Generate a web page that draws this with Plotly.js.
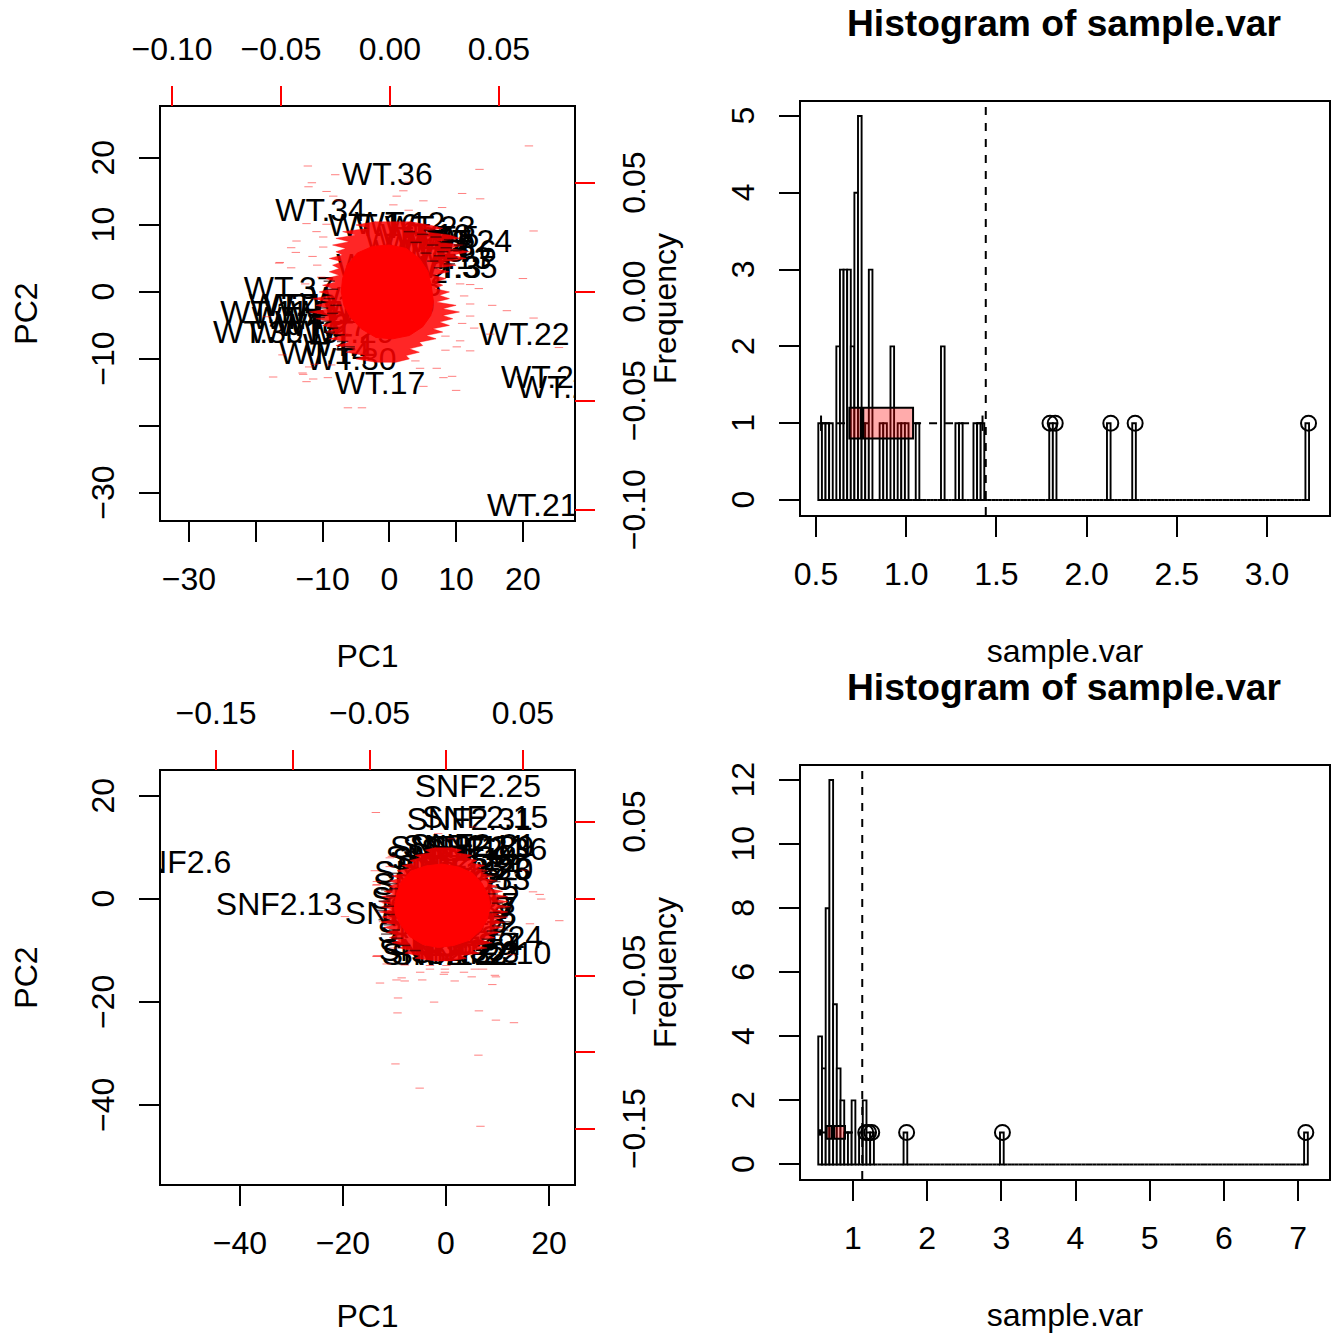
<!DOCTYPE html>
<html><head><meta charset="utf-8">
<script src="https://cdn.plot.ly/plotly-3.0.1.min.js"></script>
<style>html,body{margin:0;padding:0;background:#fff}#c{width:1336px;height:1334px}</style>
</head><body><div id="c"></div>
<script>
// ---------- Panel A: WT biplot ----------
const wtNames=["WT.36","WT.34","WT.16","WT.12","WT.23","WT.5","WT.24","WT.6","WT.35","WT.3","WT.33","WT.7","WT.37","WT.4","WT.11","WT.39","WT.19","WT.9","WT.41","WT.14","WT.30","WT.1","WT.22","WT.25","WT.28","WT.21","WT.17","WT.2","WT.8","WT.10","WT.13","WT.15","WT.18","WT.20","WT.26","WT.27","WT.29","WT.31","WT.32","WT.38","WT.40","WT.42"];
const wtX=[-0.3,-10.3,-2.4,1.6,6.1,8,11.6,10.6,9.4,8.3,1,-2.5,-15,-15.6,-18.7,-19.6,-14.2,-11.7,-13.8,-9.7,-5.7,-7.5,20.2,23.5,25.9,21.4,-1.4,6.5,7.5,5.5,8.5,4.5,6,3,-8,-10,-6,-12,-5,-3,0,2];
const wtY=[17.1,11.8,9.6,9.9,9.3,7.8,7.1,5.6,3.3,3.3,0.6,3.6,0.2,-2.4,-3.4,-6.4,-6.5,-5,-4.3,-9.5,-10.5,-8.4,-6.7,-13.1,-14.6,-32.3,-14.1,7.1,6.1,8.1,4.6,5.6,6.6,7.6,-3.4,-5.4,-6.4,-2.4,-1.4,-3.4,-2.4,2.6];
const wtCoreX=[-7.2,-7,-6.3,-4.8,-2.5,0,2.5,4.5,5.8,6.3,6.6,6.2,5,3,0.5,-2,-4.2,-5.8,-6.8];
const wtCoreY=[0,2,4,5.8,6.8,7,6.5,5,3,0.8,-1.5,-3.5,-5.2,-6.5,-7,-6.8,-5.5,-3.8,-2];
const wtFringeY=[10.5,10,9.5,9,8.5,8,7.5,7,6.5,6,5.5,5,4.5,4,3.5,3,2.5,2,1.5,1,0.5,0,-0.5,-1,-1.5,-2,-2.5,-3,-3.5,-4,-4.5,-5,-5.5,-6,-6.5,-7,-7.5,-8,-8.5,-9,-9.5,-10,-10.5];
const wtFringeR=[3,6,8,5,9,10.5,7,11,9,12,9.5,11.5,8,10,7,9,6.5,8.5,7,8,6.8,9,7.5,9,7,10,8,10.5,8,9.5,7.5,9,6.5,8,5.5,7,4.5,5,3,4.5,2.5,3,1];
const wtFringeL=[-2,-5,-3,-7,-5,-8,-6,-8.5,-6.5,-8,-7,-9,-7,-8.5,-7.5,-9,-7.5,-9.5,-8,-10,-8.5,-10.5,-8.5,-11.5,-9,-11,-9,-12,-9,-11,-8.5,-10,-8,-9.5,-7,-9,-6,-8,-5,-6.5,-3.5,-5,-2];
const wtDarkX=[5,7,9,4,6.5,8.5,10,5.5,7.5,9.5,6.5,8.5,10.5,3,6,8,9,7.5,-9,-10,-8.5,-9.5,-8.5,-7.5,-10.5,-8,-9,-7,-6,-8.5,-9,-7.5];
const wtDarkY=[8.6,8.2,7.8,7.4,7,6.6,6.2,5.8,5.4,5,4.6,7.4,7,9,9.2,6,4.2,3.6,-1,-2.4,-3.2,-4.4,-5.4,-6.4,-3.8,-2,-6,-7.4,-8.2,0.4,1.6,-8.6];
const wtGeneX=[20.9,-12.2,13.5,-8.1,-11.6,-12.1,-9.4,2.9,2.1,10.9,-8.4,1.1,5.1,13.6,-7.6,0.6,7.9,2.9,-12.4,21.6,-13.9,-9.9,-10.9,-14.7,-9.9,-14,-16.4,-14.7,20,12.1,13.4,10.6,15.4,17.6,12.1,21.6,12.1,10.9,15.1,25.4,8.4,10.6,8.4,12.1,3.9,7.1,4.6,9.4,8.1,5.1,10,-17.4,-12.9,-11.4,-9.2,-11.2,-6.2,-4.1,-13,-12.4,-16.5,-10.8,-18.3,-16,-12,-8.7,-10.2,-11.5,-9.4,-12.6,11.2,12.7,10.1,9.6];
const wtGeneY=[21.8,18.8,18.3,17.5,16.3,15.7,15,16.4,15.1,14.7,14.3,14.3,13.6,13.9,13.7,13,12.6,12.2,10.2,9.1,7.6,8.2,9,6.6,6.7,5.9,4.4,3.6,2,1.1,0.5,1.2,-2,-2.8,-1.8,-3.9,-3.6,-4.7,-6.3,-8.3,-6.6,-7.3,-8.7,-8.8,-10.3,-11.4,-11.4,-12.6,-12.8,-14.1,-14.7,-12.7,-12.3,-13,-12.8,-10.8,-17.3,-17.3,-12.1,-13.4,4.3,4,-3.7,-9.4,-11.2,-10.9,2.2,5.3,10.1,1.2,-0.6,-5.4,-8.2,4.6];

// ---------- Panel B: WT histogram ----------
const h1Bins=[0,1,2,3,5,6,7,8,9,10,11,12,13,14,17,18,20,22,23,24,27,34,38,39,43,44,45,64,65,80,87,135];
const h1Counts=[1,1,1,1,2,3,3,3,2,4,5,1,1,3,1,1,2,1,1,1,1,2,1,1,1,1,1,1,1,1,1,1];
const h1Box=[0.528,0.685,0.755,1.038,1.423];
const h1Out=[1.797,1.826,2.134,2.269,3.23];
const h1Cut=[1.441];

// ---------- Panel C: SNF2 biplot ----------
const snfNames=["SNF2.25","SNF2.15","SNF2.31","SNF2.36","SNF2.18","SNF2.21","SNF2.9","SNF2.11","SNF2.6","SNF2.13","SNF2.2","SNF2.10","SNF2.32","SNF2.22","SNF2.3","SNF2.24","SNF2.4","SNF2.20","SNF2.23","SNF2.33","SNF2.5","SNF2.7","SNF2.8","SNF2.12","SNF2.14","SNF2.16","SNF2.17","SNF2.19","SNF2.26","SNF2.27","SNF2.28","SNF2.29","SNF2.30","SNF2.34","SNF2.35","SNF2.37"];
const snfX=[6.2,7.6,4.6,7.4,1.4,5.2,6.6,3.6,-52.2,-32.4,-9.1,8.2,-0.2,1.7,3.7,6.6,4.3,4.7,4.3,4.1,3.7,3.7,3.1,1.6,1.8,-1.7,-1.9,-2.3,-0.4,-1.1,0.4,1.2,0.5,2.7,-0.8,1.2];
const snfY=[21.3,15.3,14.9,9.1,9.5,9.9,9.5,9.7,6.6,-1.6,-3.3,-11.1,-11.3,-11.3,-10.9,-8,-9.4,5.2,5.2,3.3,1.3,-1.6,-3.5,-5.4,7.2,4.6,2.3,-0.4,-5.1,-7,-2.2,-9.3,7.6,5.9,-10.4,-2.4];
const snfCoreX=[-10,-9.6,-8.6,-6.8,-4,-0.8,2.5,5.2,7,8.2,8.6,8,6.8,4.5,1.5,-1.5,-4.5,-7,-8.8,-9.8];
const snfCoreY=[-1.5,1,3.5,5.4,6.4,6.8,6.2,5,3,0.8,-1.5,-4,-6,-8,-9,-9.4,-8.8,-7.3,-5,-3];
const snfFringeY=[10,9.5,9,8.5,8,7.5,7,6.5,6,5.5,5,4.5,4,3.5,3,2.5,2,1.5,1,0.5,0,-0.5,-1,-1.5,-2,-2.5,-3,-3.5,-4,-4.5,-5,-5.5,-6,-6.5,-7,-7.5,-8,-8.5,-9,-9.5,-10,-10.5,-11,-11.5,-12];
const snfFringeR=[1,3,2,5,4,6,5,7.5,6,8,7,9,7.5,10,8,10,8.5,11,9,12,9.5,12,9.5,12.5,9.5,12,9.5,12,9,11.5,9,11,8.5,10.5,8,9.5,7,9,6,8,5,6.5,3,4,1];
const snfFringeL=[-2,-4,-3,-6,-5,-7,-6,-8.5,-7,-9.5,-8,-10.5,-9,-11,-9.5,-11,-10,-12,-10,-12.5,-10.5,-13,-10.5,-12.5,-10.5,-13,-10.5,-12.5,-10.5,-12.5,-10,-12,-10,-11.5,-9.5,-11,-9,-10.5,-8,-9,-7,-8,-5,-6,-2];
const snfDarkX=[9.5,10.5,9,11,10,11.5,9.5,10.5,11.5,10,9,10,8,9,8,11,-10.5,-11.5,-10.5,-12,-11,-12.5,-11,-12,-11,-10,-11.5,-9.5,-10,-9.5,-8,-6];
const snfDarkY=[3.4,2.2,1,0.2,-0.8,-1.8,-2.6,-3.4,-4.4,-5.2,-6.2,-7,-7.8,4.6,5.4,-6,3,1.8,0.6,-0.4,-1.4,-2.2,-3,-4,-5,-6,-6.8,-7.6,2,5,-9,-10];
const snfGeneX=[-13.3,12.7,-11.5,-8,-3.1,0.1,-3.1,-0.2,5.6,7.2,-5,-0.2,3.5,-0.4,5,9.5,9.7,-8.6,-9.6,-8,-4.6,1.7,-12.8,9,-9.3,-2.3,-9.4,6.4,9.7,13.2,6.3,-9.8,-5.1,6.7,-13.6,-13.8,-13.5,-10.9,18.2,18.5,22,16.3,16.9,15.3,-13.5,5.3,-1.5,1.1,-13.4,-13.4,-19.6,-10.5,-10.9,-11.5,-12.2,-10.2,-13.4];
const snfGeneY=[-11,-10.8,-12.6,-12.8,-12.9,-12.9,-13.6,-13.6,-13.6,-13.6,-14.2,-14.2,-14.2,-14.6,-15.1,-14.8,-15.1,-15.3,-15.7,-15.9,-15.7,-15.9,-16.3,-16.6,-19.2,-20,-22.1,-21.7,-23.5,-24,-30.3,-32,-36.7,-44.1,16.8,5.5,2.7,8,0.9,0,-4.2,-4.8,1.4,5.6,-11.1,14,12.7,11.7,3.4,2.8,-3.4,8.3,6.3,-0.8,-4.4,-9.5,-11.1];

// ---------- Panel D: SNF2 histogram ----------
const h2Bins=[0,1,2,3,4,5,6,7,8,9,11,12,13,14,23,49,131];
const h2Counts=[4,3,8,12,5,3,2,1,1,2,1,2,1,1,1,1,1];
const h2Box=[0.555,0.645,0.73,0.892,1.125];
const h2Out=[1.172,1.21,1.253,1.723,3.015,7.105];
const h2Cut=[1.125];

// ---------- Axis labels ----------
const a1XTicks=[-30,-20,-10,0,10,20], a1XText=["−30","","−10","0","10","20"];
const a1YTicks=[-30,-20,-10,0,10,20], a1YText=["−30","","−10","0","10","20"];
const a1Top=[-0.10,-0.05,0,0.05], a1TopText=["−0.10","−0.05","0.00","0.05"];
const a3XTicks=[-40,-20,0,20], a3XText=["−40","−20","0","20"];
const a3YTicks=[-40,-20,0,20], a3YText=["−40","−20","0","20"];
const a3Top=[-0.15,-0.10,-0.05,0,0.05], a3TopText=["−0.15","","−0.05","","0.05"];
const h1XTicks=[0.5,1,1.5,2,2.5,3], h1XText=["0.5","1.0","1.5","2.0","2.5","3.0"];
const h1YTicks=[0,1,2,3,4,5];
const h2XTicks=[1,2,3,4,5,6,7];
const h2YTicks=[0,2,4,6,8,10,12];

const W=1336,H=1334,FS=32,FONT='"Liberation Sans",Arial,Helvetica,sans-serif';
const dom=(a,b)=>[(a+1)/W,(b-1)/W], domY=(t,b)=>[1-(b-1)/H,1-(t+1)/H];
// the axis line sits just outside the domain, so the range is trimmed by that one pixel
const rng=(lo,hi,len)=>[lo+(hi-lo)/len,hi-(hi-lo)/len];
const rot=a=>a.map(s=>s===""?s:s+"\u00a0");
const black={family:FONT,size:FS,color:'#000'};
const quiet={hoverinfo:'skip',showlegend:false};

function biplot(names,x,y,cx,cy,fy,fr,fl,dkx,dky,gx,gy,xa,ya){
  const fpx=fr.concat(fl.slice().reverse()), fpy=fy.concat(fy.slice().reverse());
  return [
    Object.assign({type:'scatter',mode:'text',x:x,y:y,text:names,textposition:'middle center',textfont:black,xaxis:xa,yaxis:ya,cliponaxis:true},quiet),
    Object.assign({type:'scatter',mode:'lines',x:fpx,y:fpy,fill:'toself',fillcolor:'rgba(255,0,0,0.85)',line:{color:'rgba(255,0,0,0.4)',width:1},xaxis:xa,yaxis:ya},quiet),
    Object.assign({type:'scatter',mode:'markers',x:dkx,y:dky,marker:{symbol:'line-ew',size:8,line:{color:'rgba(40,0,0,0.65)',width:1.5}},xaxis:xa,yaxis:ya},quiet),
    Object.assign({type:'scatter',mode:'lines',x:cx.concat(cx[0]),y:cy.concat(cy[0]),fill:'toself',fillcolor:'#ff0000',line:{color:'#ff0000',width:1},xaxis:xa,yaxis:ya},quiet),
    Object.assign({type:'scatter',mode:'markers',x:gx,y:gy,marker:{symbol:'line-ew',size:6,line:{color:'rgba(255,0,0,0.5)',width:1}},xaxis:xa,yaxis:ya},quiet)
  ];
}
function hist(bins,counts,n,start,size,box,out,xa,ya){
  const ys=[];for(let i=0;i<n;i++)ys.push(0);
  bins.forEach((b,i)=>ys[b]=counts[i]);
  const lines=Object.assign({type:'scatter',mode:'lines',xaxis:xa,yaxis:ya},quiet);
  return [
    Object.assign({type:'bar',y:ys,x0:start+size/2,dx:size,width:size,marker:{color:'#fff',line:{color:'#000',width:1.9}},xaxis:xa,yaxis:ya},quiet),
    Object.assign({type:'box',orientation:'h',y:[1],q1:[box[1]],median:[box[2]],q3:[box[3]],lowerfence:[box[1]],upperfence:[box[3]],width:0.4,boxpoints:false,whiskerwidth:0,fillcolor:'rgba(255,0,0,0.33)',line:{color:'#000',width:2},xaxis:xa,yaxis:ya},quiet),
    Object.assign({},lines,{x:[box[0],box[1],null,box[3],box[4]],y:[1,1,null,1,1],line:{color:'#000',width:2,dash:'8px,8px'}}),
    Object.assign({},lines,{x:[box[0],box[0],null,box[4],box[4]],y:[0.9,1.1,null,0.9,1.1],line:{color:'#000',width:2}}),
    Object.assign({},lines,{x:[box[2],box[2]],y:[0.8,1.2],line:{color:'#000',width:4.5}}),
    Object.assign({type:'scatter',mode:'markers',x:out,y:out.map(()=>1),marker:{symbol:'circle-open',size:15,color:'#000',line:{color:'#000',width:2}},xaxis:xa,yaxis:ya},quiet)
  ];
}
const dummy=(xa,ya)=>Object.assign({type:'scatter',mode:'markers',x:[0],y:[0],marker:{opacity:0,size:1},xaxis:xa,yaxis:ya},quiet);
const base=o=>Object.assign({showgrid:false,zeroline:false,showline:true,mirror:true,linecolor:'#000',linewidth:2,ticks:'outside',ticklen:20,tickwidth:2,tickcolor:'#000',tickfont:black,tickmode:'array',fixedrange:true,layer:'above traces'},o);
const red=o=>Object.assign({showgrid:false,zeroline:false,showline:false,ticks:'outside',ticklen:20,tickwidth:2,tickcolor:'#ff0000',tickfont:black,tickmode:'array',fixedrange:true},o);
const ttl=(t,s)=>({text:t,font:black,standoff:s});

const data=[].concat(
  biplot(wtNames,wtX,wtY,wtCoreX,wtCoreY,wtFringeY,wtFringeR,wtFringeL,wtDarkX,wtDarkY,wtGeneX,wtGeneY,'x','y'),
  hist(h1Bins,h1Counts,136,0.5128,0.02,h1Box,h1Out,'x2','y2'),
  biplot(snfNames,snfX,snfY,snfCoreX,snfCoreY,snfFringeY,snfFringeR,snfFringeL,snfDarkX,snfDarkY,snfGeneX,snfGeneY,'x3','y3'),
  hist(h2Bins,h2Counts,132,0.532,0.05,h2Box,h2Out,'x4','y4'),
  [dummy('x5','y'),dummy('x','y5'),dummy('x6','y3'),dummy('x3','y6')]
);
const XLAB=10, TLAB=13, YLAB=12;
const layout={
  width:W,height:H,margin:{l:0,r:0,t:0,b:0,pad:0},paper_bgcolor:'#fff',plot_bgcolor:'rgba(0,0,0,0)',showlegend:false,barmode:'overlay',bargap:0,font:{family:FONT,size:FS,color:'#000'},
  xaxis:base({domain:dom(160,575),range:rng(-34.34,27.8,415),anchor:'y',tickvals:a1XTicks,ticktext:a1XText,title:ttl('PC1',48),ticklabelstandoff:XLAB}),
  yaxis:base({domain:domY(106,521),range:rng(-34.2,27.76,415),anchor:'x',tickvals:a1YTicks,ticktext:rot(a1YText),tickangle:-90,title:ttl('PC2',38),ticklabelstandoff:YLAB}),
  xaxis5:red({domain:dom(160,575),range:rng(-0.1055,0.0849,415),anchor:'y',overlaying:'x',side:'top',tickvals:a1Top,ticktext:a1TopText,ticklabelstandoff:TLAB}),
  yaxis5:red({domain:domY(106,521),range:rng(-0.105,0.0853,415),anchor:'x',overlaying:'y',side:'right',tickangle:-90,tickvals:a1Top,ticktext:rot(a1TopText),ticklabelstandoff:YLAB}),
  xaxis2:base({domain:dom(800,1330),range:rng(0.4113,3.349,530),anchor:'y2',tickvals:h1XTicks,ticktext:h1XText,title:ttl('sample.var',48),ticklabelstandoff:XLAB}),
  yaxis2:base({domain:domY(101,516),range:rng(-0.208,5.195,415),anchor:'x2',tickvals:h1YTicks,ticktext:rot(h1YTicks.map(String)),tickangle:-90,title:ttl('Frequency',39),ticklabelstandoff:YLAB}),
  xaxis3:base({domain:dom(160,575),range:rng(-55.5,25.05,415),anchor:'y3',tickvals:a3XTicks,ticktext:a3XText,title:ttl('PC1',48),ticklabelstandoff:XLAB}),
  yaxis3:base({domain:domY(770,1185),range:rng(-55.5,25.05,415),anchor:'x3',tickvals:a3YTicks,ticktext:rot(a3YText),tickangle:-90,title:ttl('PC2',38),ticklabelstandoff:YLAB}),
  xaxis6:red({domain:dom(160,575),range:rng(-0.1865,0.0839,415),anchor:'y3',overlaying:'x3',side:'top',tickvals:a3Top,ticktext:a3TopText,ticklabelstandoff:TLAB}),
  yaxis6:red({domain:domY(770,1185),range:rng(-0.1865,0.0839,415),anchor:'x3',overlaying:'y3',side:'right',tickangle:-90,tickvals:a3Top,ticktext:rot(a3TopText),ticklabelstandoff:YLAB}),
  xaxis4:base({domain:dom(800,1330),range:rng(0.2857,7.431,530),anchor:'y4',tickvals:h2XTicks,ticktext:h2XTicks.map(String),title:ttl('sample.var',48),ticklabelstandoff:XLAB}),
  yaxis4:base({domain:domY(765,1180),range:rng(-0.484,12.47,415),anchor:'x4',tickvals:h2YTicks,ticktext:rot(h2YTicks.map(String)),tickangle:-90,title:ttl('Frequency',39),ticklabelstandoff:YLAB}),
  shapes:[
    {type:'line',xref:'x2',yref:'y2 domain',x0:h1Cut[0],x1:h1Cut[0],y0:0,y1:1,line:{color:'#000',width:2,dash:'8px,8px'}},
    {type:'line',xref:'x4',yref:'y4 domain',x0:h2Cut[0],x1:h2Cut[0],y0:0,y1:1,line:{color:'#000',width:2,dash:'8px,8px'}}
  ],
  annotations:[
    {text:'<b>Histogram of sample.var</b>',xref:'paper',yref:'paper',x:1064/W,y:1-23/H,showarrow:false,xanchor:'center',yanchor:'middle',font:{family:FONT,size:37.2,color:'#000'}},
    {text:'<b>Histogram of sample.var</b>',xref:'paper',yref:'paper',x:1064/W,y:1-687/H,showarrow:false,xanchor:'center',yanchor:'middle',font:{family:FONT,size:37.2,color:'#000'}}
  ]
};
Plotly.newPlot('c',data,layout,{staticPlot:true,displayModeBar:false});
</script></body></html>
